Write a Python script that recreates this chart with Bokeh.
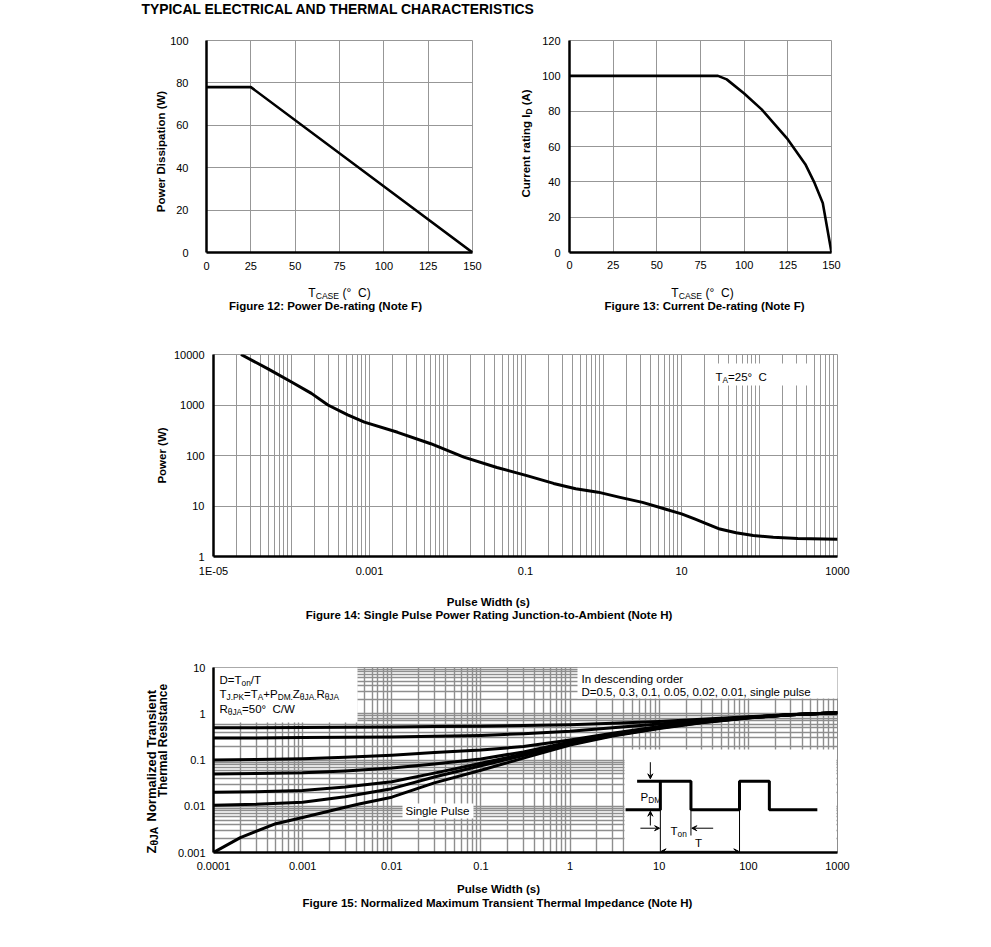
import math
from bokeh.plotting import figure
from bokeh.models import Range1d, FixedTicker, Label, BoxAnnotation, Arrow, VeeHead
from bokeh.layouts import column, row
from bokeh.embed import file_html
from bokeh.resources import INLINE

FONT = "Liberation Sans"
GRID = "#979797"
NB = "\u00a0"

# ---------------- data ----------------
fig12_temp = [0, 25, 150]
fig12_power = [78, 78, 0]
fig12_xticks = [0, 25, 50, 75, 100, 125, 150]
fig12_yticks = [0, 20, 40, 60, 80, 100]

fig13_temp = [0, 85, 90, 100, 110, 125, 135, 140, 145, 150]
fig13_current = [100, 100, 98, 90, 81, 64, 50, 40, 28, 0]
fig13_xticks = [0, 25, 50, 75, 100, 125, 150]
fig13_yticks = [0, 20, 40, 60, 80, 100, 120]

fig14_pulse = [2.25e-5, 5e-5, 1e-4, 1.8e-4, 2.93e-4, 5.25e-4, 8.6e-4, 2.29e-3, 6.1e-3, 1.62e-2,
               4.3e-2, 0.104, 0.229, 0.44, 0.85, 1.63, 3.16, 6.0, 10, 15, 20, 31, 50, 83,
               150, 309, 1000]
fig14_power = [10000, 5200, 2850, 1700, 1000, 640, 457, 288, 171, 93,
               58, 40, 28, 22, 18.8, 14.8, 11.8, 8.8, 7.0, 5.5, 4.6, 3.5, 2.95, 2.6,
               2.4, 2.28, 2.2]
fig14_xticks = [1e-5, 1e-3, 1e-1, 10, 1000]
fig14_xlabels = ["1E-05", "0.001", "0.1", "10", "1000"]
fig14_decades_x = [1e-5, 1e-4, 1e-3, 1e-2, 1e-1, 1, 10, 100]
fig14_yticks = [1, 10, 100, 1000, 10000]
fig14_ylabels = ["1", "10", "100", "1000", "10000"]

fig15_pulse = [1e-4, 3e-4, 1e-3, 3e-3, 1e-2, 3e-2, 0.1, 0.3, 1, 3, 10, 30, 100, 300, 1000]
fig15_d050 = [0.50, 0.50, 0.505, 0.51, 0.52, 0.53, 0.54, 0.555, 0.58, 0.62, 0.68, 0.76, 0.86, 0.96, 1.05]
fig15_d030 = [0.30, 0.30, 0.305, 0.31, 0.315, 0.325, 0.34, 0.37, 0.42, 0.50, 0.60, 0.72, 0.84, 0.95, 1.05]
fig15_d010 = [0.10, 0.102, 0.107, 0.115, 0.127, 0.145, 0.165, 0.195, 0.27, 0.38, 0.53, 0.68, 0.83, 0.95, 1.05]
fig15_d005 = [0.05, 0.051, 0.053, 0.058, 0.067, 0.082, 0.105, 0.15, 0.245, 0.36, 0.51, 0.67, 0.83, 0.95, 1.05]
fig15_d002 = [0.02, 0.0205, 0.022, 0.026, 0.034, 0.052, 0.085, 0.135, 0.235, 0.35, 0.50, 0.66, 0.82, 0.95, 1.05]
fig15_d001 = [0.0105, 0.011, 0.0122, 0.016, 0.024, 0.043, 0.075, 0.125, 0.225, 0.34, 0.49, 0.65, 0.82, 0.95, 1.05]
fig15_duty_curves = [fig15_d050, fig15_d030, fig15_d010, fig15_d005, fig15_d002, fig15_d001]
fig15_single_pulse = [1e-4, 2e-4, 5e-4, 1e-3, 3e-3, 4.3e-3, 1e-2, 3e-2, 0.1, 0.3, 1, 3, 10, 30, 100, 300, 1000]
fig15_single = [0.001, 0.0021, 0.0042, 0.0057, 0.0095, 0.0112, 0.0157, 0.032, 0.06, 0.11, 0.21,
                0.33, 0.48, 0.64, 0.81, 0.95, 1.05]
fig15_xticks = [1e-4, 1e-3, 1e-2, 1e-1, 1, 10, 100, 1000]
fig15_xlabels = ["0.0001", "0.001", "0.01", "0.1", "1", "10", "100", "1000"]
fig15_yticks = [0.001, 0.01, 0.1, 1, 10]
fig15_ylabels = ["0.001", "0.01", "0.1", "1", "10"]

# inset pulse diagram of Figure 15 (in the chart's own log units)
pulse_wave_x = [4.19, 10.3, 10.3, 22.7, 22.7, 79.6, 79.6, 172, 172, 594]
pulse_wave_y = [0.00838, 0.00838, 0.0348, 0.0348, 0.00838, 0.00838, 0.0348, 0.0348, 0.00838, 0.00838]
pulse_ref_x = [5.65, 10.3]
pulse_ref_y = [0.0348, 0.0348]

# ---------------- helpers ----------------
W_REG = {' ': 278, '(': 333, ')': 333, '+': 584, ',': 278, '-': 333, '.': 278, '/': 278,
         ':': 278, '=': 584, '°': 400, 'θ': 556, 'A': 667, 'B': 667, 'C': 722, 'D': 722,
         'E': 667, 'F': 611, 'H': 722, 'I': 278, 'J': 500, 'K': 667, 'M': 833, 'N': 722,
         'O': 778, 'P': 667, 'R': 722, 'S': 667, 'T': 611, 'W': 944, 'Z': 611,
         'a': 556, 'b': 556, 'c': 500, 'd': 556, 'e': 556, 'g': 556, 'h': 556, 'i': 222,
         'l': 222, 'm': 833, 'n': 556, 'o': 556, 'p': 556, 'r': 333, 's': 500, 't': 278,
         'u': 556, 'w': 722, 'z': 500}
W_BOLD = {' ': 278, '(': 333, ')': 333, '-': 333, ':': 333, '.': 278, '°': 400, 'θ': 611,
          'A': 722, 'C': 722, 'D': 722, 'E': 667, 'F': 611, 'H': 722, 'I': 278, 'J': 556,
          'M': 833, 'N': 722, 'P': 667, 'R': 722, 'S': 667, 'T': 611, 'W': 944, 'Z': 611,
          'a': 556, 'b': 611, 'c': 556, 'd': 611, 'e': 556, 'g': 611, 'h': 611, 'i': 278,
          'l': 278, 'm': 889, 'n': 611, 'o': 611, 'p': 611, 'r': 389, 's': 556, 't': 333,
          'u': 611, 'w': 778, 'z': 500, 'Y': 667, 'L': 611, 'K': 722, 'O': 778, 'G': 778}


class Chart:
    def __init__(self, p, F, xr, yr, xlog=False, ylog=False):
        self.p, self.F, self.xr, self.yr, self.xlog, self.ylog = p, F, xr, yr, xlog, ylog

    def X(self, px):
        f = (px - self.F[0]) / (self.F[1] - self.F[0])
        a, b = self.xr
        if self.xlog:
            return 10 ** (math.log10(a) + f * (math.log10(b) - math.log10(a)))
        return a + f * (b - a)

    def Y(self, py):
        f = (self.F[3] - py) / (self.F[3] - self.F[2])
        a, b = self.yr
        if self.ylog:
            return 10 ** (math.log10(a) + f * (math.log10(b) - math.log10(a)))
        return a + f * (b - a)


def run(c, segs, px, py, size, bold=False, vertical=False, align="left", side=None, sub_scale=0.72):
    """Text run with subscripts at page coords; side=None -> inside the frame."""
    W = W_BOLD if bold else W_REG
    parts = []
    total = 0.0
    for s, sub in segs:
        sz = size * sub_scale if sub else size
        parts.append((s, sub, sz, total))
        total += sum(W.get(ch, 556) for ch in s) * sz / 1000.0
    for s, sub, sz, off in parts:
        if not vertical:
            start = px - total / 2 if align == "center" else px
            x = start + off
            y = py + (0.3 * size if sub else 0)
        else:
            start = py + total / 2 if align == "center" else py
            y = start - off
            x = px + (0.3 * size if sub else 0)
        txt = s.replace(" ", NB) if (s != s.strip() or "  " in s) else s
        common = dict(text=txt, text_font=FONT, text_font_size=f"{sz:.1f}px",
                      text_font_style="bold" if bold else "normal",
                      text_color="black", text_align="left", text_baseline="middle",
                      angle=math.pi / 2 if vertical else 0.0)
        if side is None:
            c.p.add_layout(Label(x=x - c.F[0], y=c.F[3] - y, x_units="screen", y_units="screen",
                                 **common))
        else:
            c.p.add_layout(Label(x=c.X(x), y=c.Y(y), x_units="data", y_units="data", **common),
                           side)


def box(c, l, r, t, b):
    F = c.F
    c.p.add_layout(BoxAnnotation(left=l - F[0], right=r - F[0], top=F[3] - t, bottom=F[3] - b,
                                 left_units="screen", right_units="screen",
                                 top_units="screen", bottom_units="screen",
                                 fill_color="white", fill_alpha=1.0, line_color=None,
                                 level="underlay"))


def make_fig(F, origin, width, height, xr, yr, xlog=False, ylog=False, grid=GRID):
    left = F[0] - origin[0]
    top = F[2] - origin[1]
    right = width - left - (F[1] - F[0])
    bottom = height - top - (F[3] - F[2])
    p = figure(width=width, height=height, output_backend="svg", toolbar_location=None,
               min_border_left=left, min_border_right=right, min_border_top=top,
               min_border_bottom=bottom, x_range=Range1d(*xr), y_range=Range1d(*yr),
               x_axis_type="log" if xlog else "linear", y_axis_type="log" if ylog else "linear")
    p.background_fill_color = "white"
    p.border_fill_color = "white"
    p.outline_line_color = grid
    p.outline_line_width = 1
    for ax in (p.xaxis[0], p.yaxis[0]):
        ax.axis_line_color = "black"
        ax.axis_line_width = 2.5
        ax.major_tick_line_color = None
        ax.minor_tick_line_color = None
        ax.major_tick_out = 0
        ax.major_tick_in = 0
        ax.minor_tick_out = 0
        ax.minor_tick_in = 0
        ax.major_label_text_font = FONT
        ax.major_label_text_font_size = "11px"
        ax.major_label_text_color = "black"
    for g in (p.xgrid[0], p.ygrid[0]):
        g.grid_line_color = grid
        g.grid_line_width = 1
    return Chart(p, F, xr, yr, xlog, ylog)


SPLIT = 538  # page x where Figure 12's canvas ends and Figure 13's begins

# ---------------- Figure 12 ----------------
c12 = make_fig((206, 472, 40, 252), (0, 0), SPLIT, 322, (0, 150), (0, 100))
p12 = c12.p
p12.xaxis.ticker = FixedTicker(ticks=fig12_xticks)
p12.yaxis.ticker = FixedTicker(ticks=fig12_yticks)
p12.xaxis.major_label_standoff = 9
p12.yaxis.major_label_standoff = 18
p12.line(fig12_temp, fig12_power, line_width=2.6, color="black")
run(c12, [("TYPICAL ELECTRICAL AND THERMAL CHARACTERISTICS", False)], 141, 8, 13.9, bold=True,
    side="above")
run(c12, [("Power Dissipation (W)", False)], 160, 151, 11.5, bold=True, vertical=True,
    align="center", side="left")
run(c12, [("T", False), ("CASE", True), (" (°  C)", False)], 339, 292, 12, align="center", side="below")
run(c12, [("Figure 12: Power De-rating (Note F)", False)], 325, 305, 11.5, bold=True,
    align="center", side="below")
# y-axis title of Figure 13 lies left of Figure 13's canvas, so it is drawn here
run(c12, [("Current rating I", False), ("D", True), (" (A)", False)], 525, 143, 11.5,
    bold=True, vertical=True, align="center", side="right")

# ---------------- Figure 13 ----------------
c13 = make_fig((569, 831, 40, 252), (SPLIT, 0), 983 - SPLIT, 322, (0, 150), (0, 120))
p13 = c13.p
p13.xaxis.ticker = FixedTicker(ticks=fig13_xticks)
p13.yaxis.ticker = FixedTicker(ticks=fig13_yticks)
p13.xaxis.major_label_standoff = 8
p13.yaxis.major_label_standoff = 9
p13.line(fig13_temp, fig13_current, line_width=2.6, color="black")
run(c13, [("T", False), ("CASE", True), (" (°  C)", False)], 702, 292, 12, align="center", side="below")
run(c13, [("Figure 13: Current De-rating (Note F)", False)], 704, 305, 11.5, bold=True,
    align="center", side="below")

# ---------------- Figure 14 ----------------
c14 = make_fig((210, 837, 354, 556), (0, 322), 975, 306, (1e-5, 1000), (1, 10000), True, True)
p14 = c14.p
p14.xaxis.ticker = FixedTicker(ticks=fig14_xticks,
                               minor_ticks=[m * d for d in fig14_decades_x for m in range(1, 10)])
p14.yaxis.ticker = FixedTicker(ticks=fig14_yticks)
p14.xaxis.major_label_overrides = dict(zip(fig14_xticks, fig14_xlabels))
p14.yaxis.major_label_overrides = dict(zip(fig14_yticks, fig14_ylabels))
p14.xgrid.minor_grid_line_color = GRID
p14.xaxis.major_label_standoff = 8
p14.yaxis.major_label_standoff = 9
box(c14, 703, 806, 363, 385)
p14.line(fig14_pulse, fig14_power, line_width=3, color="black", line_join="round")
run(c14, [("T", False), ("A", True), ("=25°  C", False)], 712, 376, 11.5)
run(c14, [("Power (W)", False)], 158, 455, 11.5, bold=True, vertical=True, align="center", side="left")
run(c14, [("Pulse Width (s)", False)], 486, 601, 11.5, bold=True, align="center", side="below")
run(c14, [("Figure 14: Single Pulse Power Rating Junction-to-Ambient (Note H)", False)],
    486, 614, 11.5, bold=True, align="center", side="below")

# ---------------- Figure 15 ----------------
G15 = "#8e8e8e"
c15 = make_fig((213, 842, 667, 852), (0, 628), 975, 292, (1e-4, 1000), (0.001, 10), True, True, grid=G15)
p15 = c15.p
p15.xaxis.ticker = FixedTicker(ticks=fig15_xticks,
                               minor_ticks=[m * d for d in fig15_xticks[:-1] for m in range(2, 10)])
p15.yaxis.ticker = FixedTicker(ticks=fig15_yticks,
                               minor_ticks=[m * d for d in fig15_yticks[:-1] for m in range(2, 10)])
p15.xaxis.major_label_overrides = dict(zip(fig15_xticks, fig15_xlabels))
p15.yaxis.major_label_overrides = dict(zip(fig15_yticks, fig15_ylabels))
p15.xgrid.minor_grid_line_color = G15
p15.ygrid.minor_grid_line_color = G15
for g in (p15.xgrid[0], p15.ygrid[0]):
    g.grid_line_width = 1.4
    g.minor_grid_line_width = 1.4
p15.xaxis.major_label_standoff = 9
p15.yaxis.major_label_standoff = 8

box(c15, 213, 357, 667, 722)
box(c15, 577, 842, 667, 698)
box(c15, 402, 473, 803, 818)
box(c15, 624, 836, 749, 852)

for ys in fig15_duty_curves:
    p15.line(fig15_pulse, ys, line_width=3, color="black", line_join="round")
p15.line(fig15_single_pulse, fig15_single, line_width=3, color="black", line_join="round")

# inset diagram
p15.line(pulse_wave_x, pulse_wave_y, line_width=3, color="black")
p15.line(pulse_ref_x, pulse_ref_y, line_width=3, color="black")
p15.segment(x0=[22.7, 10.3, 79.6], y0=[0.0081, 0.0081, 0.0081],
            x1=[22.7, 10.3, 79.6], y1=[0.00233, 0.001, 0.001], line_width=1, color="black")
head = dict(size=5, fill_color="black", line_color="black")
for xs, ys_, xe, ye in [(7.95, 0.0896, 7.95, 0.0392), (7.95, 0.00384, 7.95, 0.0078),
                        (6.15, 0.00335, 10.1, 0.00335), (40.3, 0.00335, 23.2, 0.00335)]:
    p15.add_layout(Arrow(end=VeeHead(**head), x_start=xs, y_start=ys_, x_end=xe, y_end=ye,
                         line_width=1, line_color="black"))
p15.add_layout(Arrow(start=VeeHead(**head), end=VeeHead(**head), x_start=10.5, y_start=0.00106,
                     x_end=78, y_end=0.00106, line_width=1, line_color="black"))

run(c15, [("D=T", False), ("on", True), ("/T", False)], 219, 679, 11.5)
run(c15, [("T", False), ("J.PK", True), ("=T", False), ("A", True), ("+P", False),
          ("DM.", True), ("Z", False), ("θJA.", True), ("R", False), ("θJA", True)], 219, 693, 11.5)
run(c15, [("R", False), ("θJA", True), ("=50°  C/W", False)], 219, 708, 11.5)
run(c15, [("In descending order", False)], 581, 678, 11.5)
run(c15, [("D=0.5, 0.3, 0.1, 0.05, 0.02, 0.01, single pulse", False)], 581, 691, 11.5)
run(c15, [("Single Pulse", False)], 405, 810.5, 11.5)
run(c15, [("P", False), ("DM", True)], 640, 796, 11.5)
run(c15, [("T", False), ("on", True)], 670, 830, 11.5)
run(c15, [("T", False)], 698, 842, 11.5, align="center")

run(c15, [("Z", False), ("θJA", True)], 150, 853, 13, bold=True, vertical=True, side="left", sub_scale=0.8)
run(c15, [("Normalized Transient", False)], 150, 821, 13, bold=True, vertical=True, side="left")
run(c15, [("Thermal Resistance", False)], 162, 740, 12, bold=True, vertical=True,
    align="center", side="left")
run(c15, [("Pulse Width (s)", False)], 500, 888, 11.5, bold=True, align="center", side="below")
run(c15, [("Figure 15: Normalized Maximum Transient Thermal Impedance (Note H)", False)],
    498, 902, 11.5, bold=True, align="center", side="below")

layout = column(row(p12, p13), p14, p15)
open("out.html", "w").write(file_html(layout, INLINE))
